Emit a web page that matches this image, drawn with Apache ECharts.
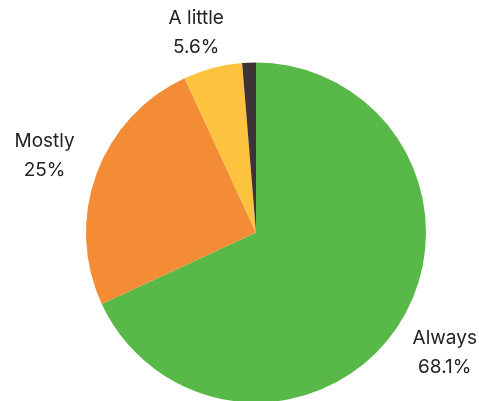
<!DOCTYPE html>
<html>
<head>
<meta charset="utf-8">
<script src="https://cdn.jsdelivr.net/npm/echarts@6/dist/echarts.min.js"></script>
<style>
  html, body { margin: 0; padding: 0; background: #fff; }
  #chart { width: 479px; height: 401px; }
</style>
</head>
<body>
<div id="chart"></div>
<script>
const categories = ['Always', 'Mostly', 'A little', 'Never'];
const values = [68.1, 25, 5.6, 1.3];
const valueLabels = ['68.1%', '25%', '5.6%', ''];
const colors = ['#58b848', '#f48b35', '#fdc33e', '#3d3436'];

const cx = 256, cy = 232.5, radius = 170;
// label placement: distance from centre along the slice's middle, plus a sideways nudge
const labelDist = [224, 222, 207, 0];
const labelNudgeX = [0, -3, -7, 0];

const total = values.reduce((a, b) => a + b, 0);
const midAngles = [];
let acc = 0;
values.forEach(v => {
  midAngles.push((acc + v / 2) / total * Math.PI * 2);
  acc += v;
});

const chart = echarts.init(document.getElementById('chart'), null, { renderer: 'canvas' });

chart.setOption({
  animation: false,
  backgroundColor: '#fff',
  series: [{
    type: 'pie',
    center: [cx, cy],
    radius: radius,
    startAngle: 90,
    clockwise: true,
    itemStyle: { borderWidth: 0 },
    label: {
      show: true,
      position: 'outside',
      alignTo: 'none',
      overflow: 'none',
      width: 120,
      formatter: p => p.name + '\n' + valueLabels[p.dataIndex],
      fontFamily: 'Inter, "Noto Sans", sans-serif',
      fontSize: 19,
      lineHeight: 29,
      color: '#222222',
      align: 'center'
    },
    labelLine: { show: false },
    labelLayout: params => {
      const i = params.dataIndex;
      const a = midAngles[i];
      return {
        x: cx + Math.sin(a) * labelDist[i] + labelNudgeX[i],
        y: cy - Math.cos(a) * labelDist[i],
        align: 'center',
        verticalAlign: 'middle'
      };
    },
    data: categories.map((c, i) => ({
      name: c,
      value: values[i],
      itemStyle: { color: colors[i] },
      label: { show: i < 3 }
    }))
  }]
});
</script>
</body>
</html>
